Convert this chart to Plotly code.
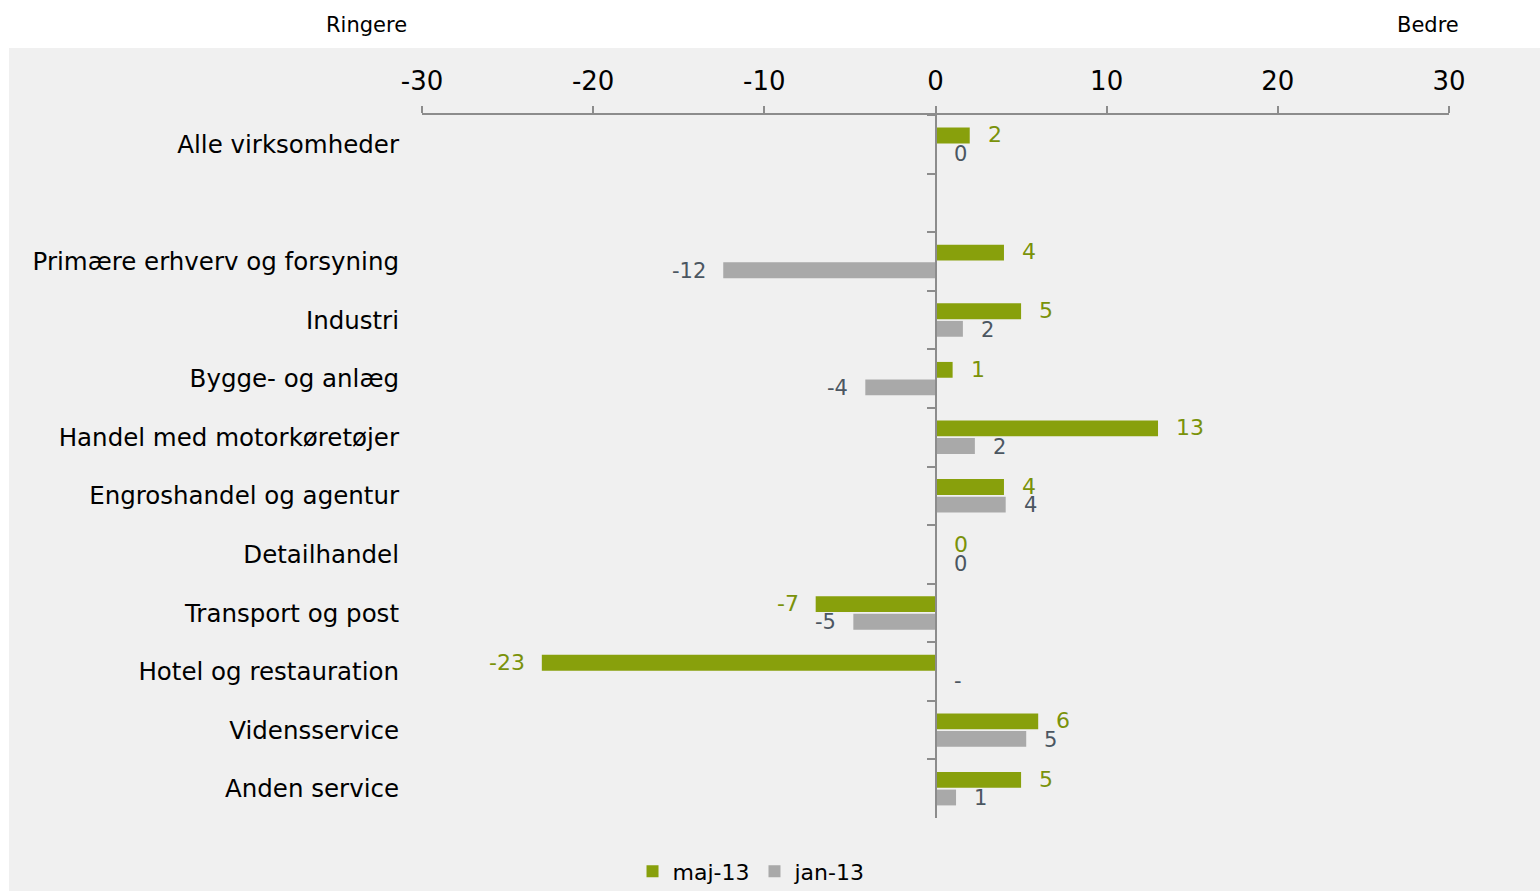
import plotly.graph_objects as go

categories = [
    "Alle virksomheder",
    " ",
    "Primære erhverv og forsyning",
    "Industri",
    "Bygge- og anlæg",
    "Handel med motorkøretøjer",
    "Engroshandel og agentur",
    "Detailhandel",
    "Transport og post",
    "Hotel og restauration",
    "Vidensservice",
    "Anden service",
]
maj13 = [2.0, None, 4.0, 5.0, 1.0, 13.0, 4.0, 0.0, -7.0, -23.0, 6.0, 5.0]
jan13 = [0.0, None, -12.4, 1.6, -4.1, 2.3, 4.1, 0.0, -4.8, None, 5.3, 1.2]
maj13_labels = ["2", "", "4", "5", "1", "13", "4", "0", "-7", "-23", "6", "5"]
jan13_labels = ["0", "", "-12", "2", "-4", "2", "4", "0", "-5", "-", "5", "1"]
x_ticks = [-30, -20, -10, 0, 10, 20, 30]

GREEN = "#88a00c"
GREEN_TXT = "#7a920a"
GRAY = "#a9a9a9"
GRAY_TXT = "#4b5661"
AXIS = "#8c8c8c"
BG = "#f0f0f0"
FONT = "DejaVu Sans"

n = len(categories)
yrange = [n - 0.5, -0.5]

fig = go.Figure()
fig.add_trace(go.Bar(y=categories, x=maj13, orientation="h", name="maj-13",
                     marker=dict(color=GREEN, line=dict(width=0)), hoverinfo="skip"))
fig.add_trace(go.Bar(y=categories, x=jan13, orientation="h", name="jan-13",
                     marker=dict(color=GRAY, line=dict(width=0)), hoverinfo="skip"))
# helper trace to draw the zero axis with category boundary ticks
fig.add_trace(go.Scatter(y=categories, x=[0] * n, yaxis="y2", mode="markers",
                         marker=dict(size=0, opacity=0), showlegend=False, hoverinfo="skip"))

annotations = []
for vals, labs, col, size, ysh in ((maj13, maj13_labels, GREEN_TXT, 22, 9.5),
                                   (jan13, jan13_labels, GRAY_TXT, 21, -9.5)):
    for cat, v, lab in zip(categories, vals, labs):
        if lab == "":
            continue
        xv = v if v is not None else 0
        neg = xv < 0
        annotations.append(dict(
            x=xv, y=cat, xref="x", yref="y", text=lab, showarrow=False,
            xanchor="right" if neg else "left", yanchor="middle",
            xshift=-15 if neg else 16, yshift=ysh,
            font=dict(family=FONT, size=size, color=col)))

annotations.append(dict(x=-0.0545, y=1.128, xref="paper", yref="paper", text="Ringere",
                        showarrow=False, xanchor="center", yanchor="middle",
                        font=dict(family=FONT, size=21, color="black")))
annotations.append(dict(x=0.9796, y=1.128, xref="paper", yref="paper", text="Bedre",
                        showarrow=False, xanchor="center", yanchor="middle",
                        font=dict(family=FONT, size=21, color="black")))

fig.update_layout(
    width=1540, height=891,
    margin=dict(l=422, r=91, t=115, b=73),
    paper_bgcolor="white",
    plot_bgcolor=BG,
    font=dict(family=FONT, color="black"),
    barmode="group",
    bargap=0.4,
    bargroupgap=0.1,
    annotations=annotations,
    shapes=[dict(type="rect", xref="paper", yref="paper", x0=-0.4021, x1=1.09,
                 y0=-0.11, y1=1.0953, fillcolor=BG, line=dict(width=0), layer="below")],
    xaxis=dict(side="top", range=[-30, 30], tickvals=x_ticks, ticktext=[str(t) for t in x_ticks],
               ticks="outside", ticklen=7, tickwidth=2, tickcolor=AXIS,
               showline=True, linecolor=AXIS, linewidth=2, showgrid=False, zeroline=False,
               ticklabelstandoff=6,
               tickfont=dict(family=FONT, size=26, color="black")),
    yaxis=dict(type="category", categoryorder="array", categoryarray=categories,
               range=yrange, autorange=False, showline=False, ticks="", showgrid=False,
               zeroline=False, ticklabelstandoff=22,
               tickfont=dict(family=FONT, size=24.5, color="black")),
    yaxis2=dict(type="category", categoryorder="array", categoryarray=categories,
                overlaying="y", anchor="free", position=0.5, side="left",
                range=yrange, autorange=False, showline=True, linecolor=AXIS, linewidth=2,
                ticks="outside", tickson="boundaries", ticklen=8, tickwidth=2, tickcolor=AXIS,
                showticklabels=False, showgrid=False, zeroline=False),
    legend=dict(orientation="h", xref="container", yref="container", x=0.488, y=0.022,
                xanchor="center", yanchor="middle", bgcolor="rgba(0,0,0,0)",
                font=dict(family=FONT, size=22, color="black"), itemwidth=30,
                traceorder="normal"),
)

fig.write_html("out.html", config={"displayModeBar": False},
               post_script="document.body.style.margin='0';")
